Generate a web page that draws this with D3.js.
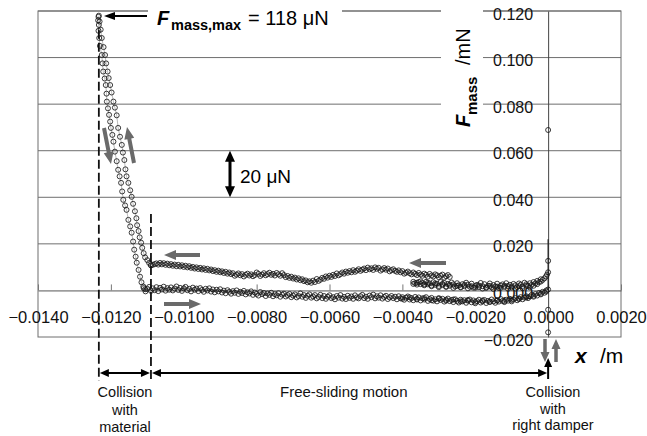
<!DOCTYPE html>
<html><head><meta charset="utf-8">
<script src="https://cdn.jsdelivr.net/npm/d3@7"></script>
<style>
body{margin:0;background:#fff}
svg{display:block;font-family:"Liberation Sans",Arial,sans-serif}
</style>
</head><body>
<svg id="c" width="647" height="436"></svg>
<script>
// ---------- axis ticks ----------
const xTicks = [-0.014,-0.012,-0.010,-0.008,-0.006,-0.004,-0.002,0.000,0.002];
const xTickLabels = ["\u22120.0140","\u22120.0120","\u22120.0100","\u22120.0080","\u22120.0060","\u22120.0040","\u22120.0020","0.0000","0.0020"];
const yTicks = [-0.02,0.00,0.02,0.04,0.06,0.08,0.10,0.12];
const yTickLabels = ["\u22120.020","0.000","0.020","0.040","0.060","0.080","0.100","0.120"];

// ---------- data: x /m, F_mass /mN ----------
// collision with material: loading branch (force rising)
const loadBranch = [
[-0.01090,0.0108],[-0.01095,0.0118],[-0.01100,0.0130],[-0.01106,0.0142],[-0.01110,0.0160],
[-0.01114,0.0183],[-0.01117,0.0205],[-0.01121,0.0228],[-0.01124,0.0255],[-0.01128,0.0280],
[-0.01130,0.0310],[-0.01134,0.0340],[-0.01139,0.0372],[-0.01143,0.0402],[-0.01147,0.0430],
[-0.01152,0.0462],[-0.01157,0.0490],[-0.01160,0.0520],[-0.01163,0.0560],[-0.01167,0.0592],
[-0.01170,0.0625],[-0.01175,0.0660],[-0.01180,0.0698],[-0.01184,0.0752],[-0.01189,0.0785],
[-0.01193,0.0811],[-0.01198,0.0850],[-0.01202,0.0882],[-0.01206,0.0912],[-0.01209,0.0940],
[-0.01213,0.0975],[-0.01216,0.1011],[-0.01220,0.1045],[-0.01225,0.1084],[-0.01228,0.1120],
[-0.01231,0.1155],[-0.01233,0.1180]];
// collision with material: unloading branch (force falling)
const unloadBranch = [
[-0.01234,0.1175],[-0.01235,0.1160],[-0.01233,0.1140],[-0.01234,0.1115],[-0.01232,0.1084],
[-0.01230,0.1050],[-0.01225,0.1011],[-0.01223,0.0975],[-0.01221,0.0940],[-0.01217,0.0910],
[-0.01214,0.0882],[-0.01212,0.0845],[-0.01211,0.0811],[-0.01208,0.0782],[-0.01205,0.0754],
[-0.01202,0.0725],[-0.01200,0.0698],[-0.01196,0.0668],[-0.01193,0.0639],[-0.01189,0.0596],
[-0.01184,0.0555],[-0.01180,0.0518],[-0.01176,0.0490],[-0.01172,0.0462],[-0.01169,0.0425],
[-0.01166,0.0389],[-0.01161,0.0365],[-0.01157,0.0346],[-0.01152,0.0303],[-0.01147,0.0275],
[-0.01143,0.0248],[-0.01139,0.0210],[-0.01136,0.0175],[-0.01132,0.0145],[-0.01129,0.0119],
[-0.01124,0.0088],[-0.01120,0.0059],[-0.01116,0.0035],[-0.01111,0.0017],[-0.01106,0.0005]];
// free sliding towards the material (moving left), upper band
const upperBand = [
[-0.00270,0.0058],[-0.00275,0.0066],[-0.00280,0.0061],[-0.00285,0.0055],[-0.00290,0.0068],
[-0.00295,0.0063],[-0.00300,0.0057],[-0.00305,0.0065],[-0.00310,0.0069],[-0.00315,0.0060],
[-0.00320,0.0064],[-0.00325,0.0071],[-0.00330,0.0059],[-0.00335,0.0067],[-0.00340,0.0072],
[-0.00345,0.0063],[-0.00350,0.0068],[-0.00355,0.0075],[-0.00360,0.0066],[-0.00365,0.0071],
[-0.00370,0.0077],[-0.00375,0.0069],[-0.00380,0.0074],[-0.00385,0.0081],[-0.00390,0.0076],
[-0.00395,0.0072],[-0.00400,0.0083],[-0.00405,0.0078],[-0.00410,0.0086],[-0.00415,0.0080],
[-0.00420,0.0084],[-0.00425,0.0091],[-0.00430,0.0087],[-0.00435,0.0082],[-0.00440,0.0094],
[-0.00445,0.0089],[-0.00450,0.0096],[-0.00455,0.0090],[-0.00460,0.0085],[-0.00465,0.0097],
[-0.00470,0.0093],[-0.00475,0.0099],[-0.00480,0.0088],[-0.00485,0.0095],[-0.00490,0.0091],
[-0.00495,0.0098],[-0.00500,0.0087],[-0.00505,0.0094],[-0.00510,0.0089],[-0.00515,0.0084],
[-0.00520,0.0091],[-0.00525,0.0085],[-0.00530,0.0080],[-0.00535,0.0087],[-0.00540,0.0078],
[-0.00545,0.0083],[-0.00550,0.0076],[-0.00555,0.0081],[-0.00560,0.0072],[-0.00565,0.0077],
[-0.00570,0.0070],[-0.00575,0.0065],[-0.00580,0.0073],[-0.00585,0.0062],[-0.00590,0.0067],
[-0.00595,0.0058],[-0.00600,0.0063],[-0.00605,0.0055],[-0.00610,0.0060],[-0.00615,0.0050],
[-0.00620,0.0054],[-0.00625,0.0046],[-0.00630,0.0041],[-0.00635,0.0049],[-0.00640,0.0036],
[-0.00645,0.0042],[-0.00650,0.0033],[-0.00655,0.0039],[-0.00660,0.0035],[-0.00665,0.0043],
[-0.00670,0.0040],[-0.00675,0.0048],[-0.00680,0.0044],[-0.00685,0.0052],[-0.00690,0.0047],
[-0.00695,0.0055],[-0.00700,0.0051],[-0.00705,0.0059],[-0.00710,0.0054],[-0.00715,0.0062],
[-0.00720,0.0057],[-0.00725,0.0066],[-0.00730,0.0074],[-0.00735,0.0063],[-0.00740,0.0069],
[-0.00745,0.0075],[-0.00750,0.0064],[-0.00755,0.0071],[-0.00760,0.0067],[-0.00765,0.0076],
[-0.00770,0.0070],[-0.00775,0.0065],[-0.00780,0.0074],[-0.00785,0.0068],[-0.00790,0.0062],
[-0.00795,0.0071],[-0.00800,0.0077],[-0.00805,0.0066],[-0.00810,0.0061],[-0.00815,0.0069],
[-0.00820,0.0064],[-0.00825,0.0072],[-0.00830,0.0067],[-0.00835,0.0060],[-0.00840,0.0070],
[-0.00845,0.0065],[-0.00850,0.0073],[-0.00855,0.0068],[-0.00860,0.0063],[-0.00865,0.0074],
[-0.00870,0.0070],[-0.00875,0.0077],[-0.00880,0.0072],[-0.00885,0.0080],[-0.00890,0.0075],
[-0.00895,0.0082],[-0.00900,0.0078],[-0.00905,0.0085],[-0.00910,0.0080],[-0.00915,0.0087],
[-0.00920,0.0083],[-0.00925,0.0090],[-0.00930,0.0086],[-0.00935,0.0093],[-0.00940,0.0088],
[-0.00945,0.0095],[-0.00950,0.0090],[-0.00955,0.0097],[-0.00960,0.0092],[-0.00965,0.0099],
[-0.00970,0.0094],[-0.00975,0.0101],[-0.00980,0.0097],[-0.00985,0.0104],[-0.00990,0.0099],
[-0.00995,0.0106],[-0.01000,0.0101],[-0.01005,0.0108],[-0.01010,0.0103],[-0.01015,0.0110],
[-0.01020,0.0104],[-0.01025,0.0111],[-0.01030,0.0106],[-0.01035,0.0113],[-0.01040,0.0108],
[-0.01045,0.0115],[-0.01050,0.0110],[-0.01055,0.0117],[-0.01060,0.0112],[-0.01065,0.0118],
[-0.01070,0.0111],[-0.01075,0.0116],[-0.01080,0.0113],[-0.01085,0.0110],[-0.01090,0.0108]];
// free sliding towards the right damper (moving right), lower band
const lowerBand = [
[-0.01110,0.0010],[-0.01105,-0.0004],[-0.01100,0.0007],[-0.01095,0.0015],[-0.01090,-0.0002],
[-0.01085,0.0009],[-0.01080,0.0001],[-0.01075,0.0014],[-0.01070,-0.0003],[-0.01065,0.0011],
[-0.01060,0.0004],[-0.01055,0.0016],[-0.01050,-0.0001],[-0.01045,0.0010],[-0.01040,0.0003],
[-0.01035,0.0013],[-0.01030,0.0000],[-0.01025,0.0008],[-0.01020,0.0017],[-0.01015,0.0002],
[-0.01010,0.0011],[-0.01005,-0.0002],[-0.01000,0.0009],[-0.00995,0.0015],[-0.00990,0.0001],
[-0.00985,0.0007],[-0.00980,-0.0004],[-0.00975,0.0012],[-0.00970,0.0003],[-0.00965,0.0008],
[-0.00960,-0.0003],[-0.00955,0.0010],[-0.00950,0.0002],[-0.00945,-0.0006],[-0.00940,0.0007],
[-0.00935,0.0000],[-0.00930,0.0009],[-0.00925,-0.0005],[-0.00920,0.0004],[-0.00915,-0.0008],
[-0.00910,0.0003],[-0.00905,-0.0004],[-0.00900,0.0005],[-0.00895,-0.0009],[-0.00890,-0.0001],
[-0.00885,-0.0012],[-0.00880,0.0001],[-0.00875,-0.0006],[-0.00870,-0.0014],[-0.00865,-0.0003],
[-0.00860,-0.0010],[-0.00855,0.0000],[-0.00850,-0.0015],[-0.00845,-0.0006],[-0.00840,-0.0011],
[-0.00835,-0.0002],[-0.00830,-0.0017],[-0.00825,-0.0008],[-0.00820,-0.0013],[-0.00815,-0.0004],
[-0.00810,-0.0019],[-0.00805,-0.0009],[-0.00800,-0.0015],[-0.00795,-0.0022],[-0.00790,-0.0007],
[-0.00785,-0.0016],[-0.00780,-0.0011],[-0.00775,-0.0024],[-0.00770,-0.0013],[-0.00765,-0.0019],
[-0.00760,-0.0010],[-0.00755,-0.0025],[-0.00750,-0.0016],[-0.00745,-0.0021],[-0.00740,-0.0012],
[-0.00735,-0.0027],[-0.00730,-0.0018],[-0.00725,-0.0014],[-0.00720,-0.0026],[-0.00715,-0.0020],
[-0.00710,-0.0015],[-0.00705,-0.0029],[-0.00700,-0.0022],[-0.00695,-0.0017],[-0.00690,-0.0030],
[-0.00685,-0.0024],[-0.00680,-0.0013],[-0.00675,-0.0027],[-0.00670,-0.0020],[-0.00665,-0.0032],
[-0.00660,-0.0023],[-0.00655,-0.0017],[-0.00650,-0.0031],[-0.00645,-0.0026],[-0.00640,-0.0020],
[-0.00635,-0.0034],[-0.00630,-0.0028],[-0.00625,-0.0019],[-0.00620,-0.0033],[-0.00615,-0.0024],
[-0.00610,-0.0036],[-0.00605,-0.0027],[-0.00600,-0.0021],[-0.00595,-0.0033],[-0.00590,-0.0029],
[-0.00585,-0.0038],[-0.00580,-0.0024],[-0.00575,-0.0031],[-0.00570,-0.0020],[-0.00565,-0.0035],
[-0.00560,-0.0028],[-0.00555,-0.0037],[-0.00550,-0.0023],[-0.00545,-0.0032],[-0.00540,-0.0026],
[-0.00535,-0.0036],[-0.00530,-0.0021],[-0.00525,-0.0030],[-0.00520,-0.0034],[-0.00515,-0.0025],
[-0.00510,-0.0019],[-0.00505,-0.0033],[-0.00500,-0.0027],[-0.00495,-0.0036],[-0.00490,-0.0022],
[-0.00485,-0.0029],[-0.00480,-0.0018],[-0.00475,-0.0034],[-0.00470,-0.0025],[-0.00465,-0.0031],
[-0.00460,-0.0021],[-0.00455,-0.0035],[-0.00450,-0.0028],[-0.00445,-0.0023],[-0.00440,-0.0037],
[-0.00435,-0.0030],[-0.00430,-0.0024],[-0.00425,-0.0033],[-0.00420,-0.0027],[-0.00415,-0.0038],
[-0.00410,-0.0025],[-0.00405,-0.0034],[-0.00400,-0.0029],[-0.00395,-0.0040],[-0.00390,-0.0031],
[-0.00385,-0.0026],[-0.00380,-0.0039],[-0.00375,-0.0033],[-0.00370,-0.0042],[-0.00365,-0.0028],
[-0.00360,-0.0036],[-0.00355,-0.0030],[-0.00350,-0.0043],[-0.00345,-0.0034],[-0.00340,-0.0039],
[-0.00335,-0.0029],[-0.00330,-0.0045],[-0.00325,-0.0037],[-0.00320,-0.0032],[-0.00315,-0.0044],
[-0.00310,-0.0038],[-0.00305,-0.0047],[-0.00300,-0.0033],[-0.00295,-0.0041],[-0.00290,-0.0036],
[-0.00285,-0.0048],[-0.00280,-0.0040],[-0.00275,-0.0035],[-0.00270,-0.0046],[-0.00265,-0.0041],
[-0.00260,-0.0050],[-0.00255,-0.0038],[-0.00250,-0.0045],[-0.00245,-0.0052],[-0.00240,-0.0040],
[-0.00235,-0.0047],[-0.00230,-0.0042],[-0.00225,-0.0053],[-0.00220,-0.0044],[-0.00215,-0.0039],
[-0.00210,-0.0051],[-0.00205,-0.0043],[-0.00200,-0.0055],[-0.00195,-0.0046],[-0.00190,-0.0040],
[-0.00185,-0.0052],[-0.00180,-0.0047],[-0.00175,-0.0041],[-0.00170,-0.0054],[-0.00165,-0.0045],
[-0.00160,-0.0050],[-0.00155,-0.0039],[-0.00150,-0.0047],[-0.00145,-0.0053],[-0.00140,-0.0042],
[-0.00135,-0.0048],[-0.00130,-0.0037],[-0.00125,-0.0045],[-0.00120,-0.0050],[-0.00115,-0.0040],
[-0.00110,-0.0044],[-0.00105,-0.0036],[-0.00100,-0.0047],[-0.00095,-0.0039],[-0.00090,-0.0033],
[-0.00085,-0.0042],[-0.00080,-0.0035],[-0.00075,-0.0029],[-0.00070,-0.0038],[-0.00065,-0.0031],
[-0.00060,-0.0025],[-0.00055,-0.0033],[-0.00050,-0.0026],[-0.00045,-0.0019],[-0.00040,-0.0027],
[-0.00035,-0.0016],[-0.00030,-0.0022],[-0.00025,-0.0011],[-0.00020,-0.0017],[-0.00015,-0.0006],
[-0.00010,-0.0010],[-0.00005,0.0000],[0.00000,0.0004]];
// second pass of the lower band close to the right damper
const lowerBandPass2 = [
[-0.00400,-0.0036],[-0.00380,-0.0030],[-0.00360,-0.0039],[-0.00340,-0.0033],[-0.00320,-0.0042],
[-0.00300,-0.0036],[-0.00280,-0.0044],[-0.00260,-0.0039],[-0.00240,-0.0047],[-0.00220,-0.0041],
[-0.00200,-0.0049],[-0.00180,-0.0043],[-0.00160,-0.0048],[-0.00140,-0.0044],[-0.00120,-0.0046],
[-0.00100,-0.0041],[-0.00080,-0.0037],[-0.00060,-0.0030],[-0.00040,-0.0023],[-0.00020,-0.0014],
[-0.00005,-0.0005]];
// leaving the right damper (moving left), middle band
const middleBand = [
[0.00000,0.0078],[-0.00003,0.0068],[-0.00006,0.0060],[-0.00010,0.0052],[-0.00015,0.0045],
[-0.00020,0.0048],[-0.00025,0.0036],[-0.00030,0.0041],[-0.00035,0.0030],[-0.00040,0.0036],
[-0.00045,0.0024],[-0.00050,0.0031],[-0.00055,0.0019],[-0.00060,0.0027],[-0.00065,0.0033],
[-0.00070,0.0016],[-0.00075,0.0025],[-0.00080,0.0030],[-0.00085,0.0014],[-0.00090,0.0022],
[-0.00095,0.0028],[-0.00100,0.0012],[-0.00105,0.0024],[-0.00110,0.0019],[-0.00115,0.0031],
[-0.00120,0.0015],[-0.00125,0.0026],[-0.00130,0.0021],[-0.00135,0.0010],[-0.00140,0.0029],
[-0.00145,0.0017],[-0.00150,0.0023],[-0.00155,0.0013],[-0.00160,0.0030],[-0.00165,0.0020],
[-0.00170,0.0011],[-0.00175,0.0027],[-0.00180,0.0018],[-0.00185,0.0032],[-0.00190,0.0014],
[-0.00195,0.0024],[-0.00200,0.0020],[-0.00205,0.0012],[-0.00210,0.0029],[-0.00215,0.0016],
[-0.00220,0.0025],[-0.00225,0.0033],[-0.00230,0.0018],[-0.00235,0.0027],[-0.00240,0.0013],
[-0.00245,0.0022],[-0.00250,0.0031],[-0.00255,0.0017],[-0.00260,0.0026],[-0.00265,0.0034],
[-0.00270,0.0020],[-0.00275,0.0028],[-0.00280,0.0015],[-0.00285,0.0032],[-0.00290,0.0023],
[-0.00295,0.0036],[-0.00300,0.0019],[-0.00305,0.0029],[-0.00310,0.0024],[-0.00315,0.0035],
[-0.00320,0.0021],[-0.00325,0.0030],[-0.00330,0.0026],[-0.00335,0.0037],[-0.00340,0.0022],
[-0.00345,0.0032],[-0.00350,0.0027],[-0.00355,0.0036],[-0.00360,0.0025],[-0.00365,0.0031],
[-0.00370,0.0028]];
// second pass of the middle band
const middleBandPass2 = [
[-0.00020,0.0038],[-0.00030,0.0027],[-0.00040,0.0020],[-0.00050,0.0013],[-0.00060,0.0021],
[-0.00070,0.0009],[-0.00080,0.0018],[-0.00090,0.0008],[-0.00100,0.0017],[-0.00110,0.0007],
[-0.00120,0.0020],[-0.00130,0.0011],[-0.00140,0.0016],[-0.00150,0.0006],[-0.00160,0.0019],
[-0.00170,0.0013],[-0.00180,0.0008],[-0.00190,0.0021],[-0.00200,0.0012],[-0.00210,0.0018],
[-0.00220,0.0009],[-0.00230,0.0024],[-0.00240,0.0015],[-0.00250,0.0020],[-0.00260,0.0011],
[-0.00270,0.0025],[-0.00280,0.0017],[-0.00290,0.0028],[-0.00300,0.0014],[-0.00310,0.0030],
[-0.00320,0.0018],[-0.00330,0.0033],[-0.00340,0.0026],[-0.00350,0.0039],[-0.00360,0.0033],
[-0.00370,0.0037]];
// collision with the right damper
const damperPoints = [[0.0000,0.0127],[0.0000,0.0689],[0.0000,-0.0083],[0.0000,-0.0180]];

// ---------- scales ----------
const svg = d3.select("#c");
const x = d3.scaleLinear().domain([-0.014, 0.002]).range([38, 621]);
const y = d3.scaleLinear().domain([-0.02, 0.12]).range([337, 11]);

svg.append("rect").attr("width",647).attr("height",436).attr("fill","#fff");

// gridlines
svg.append("g").selectAll("line").data(yTicks.filter(v => v > 0)).join("line")
  .attr("x1", x(-0.014)).attr("x2", x(0.002))
  .attr("y1", d => y(d)).attr("y2", d => y(d))
  .attr("stroke", "#6e6e6e").attr("stroke-width", 1);
// plot border
svg.append("rect").attr("x", x(-0.014)).attr("y", y(0.12))
  .attr("width", x(0.002) - x(-0.014)).attr("height", y(-0.02) - y(0.12))
  .attr("fill", "none").attr("stroke", "#6e6e6e").attr("stroke-width", 1);

// white backgrounds of the labels that cover grid lines
svg.append("rect").attr("x",148).attr("y",2).attr("width",194).attr("height",32).attr("fill","#fff");
svg.append("rect").attr("x",441).attr("y",0).attr("width",42).attr("height",132).attr("fill","#fff");

// axes
const xAxis = d3.axisBottom(x).tickValues(xTicks)
  .tickFormat((d, i) => xTickLabels[i]).tickSizeInner(-6).tickSizeOuter(0).tickPadding(21);
const gx = svg.append("g").attr("transform", `translate(0,${y(0)})`).call(xAxis);
gx.select(".domain").attr("stroke", "#555");
gx.selectAll(".tick line").attr("stroke", "#777");
gx.selectAll("text").attr("font-size", 16.5).attr("fill", "#111")
  .attr("font-family", "Liberation Sans, Arial, sans-serif");

const yAxis = d3.axisLeft(y).tickValues(yTicks)
  .tickFormat((d, i) => yTickLabels[i]).tickSize(0).tickPadding(15);
const gy = svg.append("g").attr("transform", `translate(${x(0)},0)`).call(yAxis);
gy.select(".domain").attr("stroke", "#444");
gy.selectAll("text").attr("font-size", 16).attr("fill", "#111")
  .attr("font-family", "Liberation Sans, Arial, sans-serif").attr("dy", "0.5em");

// ---------- data marks ----------
const line = d3.line().x(d => x(d[0])).y(d => y(d[1]));
const series = [lowerBand, lowerBandPass2, middleBand, middleBandPass2, upperBand, loadBranch, unloadBranch];
const gData = svg.append("g");
series.forEach(s => {
  gData.append("path").datum(s).attr("d", line)
    .attr("fill", "none").attr("stroke", "#8a8a8a").attr("stroke-width", 0.6);
});
gData.append("path").datum([[0,0.0004],[0,0.0220],[0,0.0127]]).attr("d", line)
  .attr("fill","none").attr("stroke","#222").attr("stroke-width",1.2);
series.concat([damperPoints]).forEach(s => {
  gData.append("g").selectAll("circle").data(s).join("circle")
    .attr("cx", d => x(d[0])).attr("cy", d => y(d[1])).attr("r", 2.5)
    .attr("fill", "none").attr("stroke", "#1a1a1a").attr("stroke-width", 0.85);
});

// ---------- annotations ----------
const ann = svg.append("g");
function arrowPts(x1,y1,x2,y2,sw,hw,hl){
  const dx=x2-x1, dy=y2-y1, L=Math.hypot(dx,dy), ux=dx/L, uy=dy/L, nx=-uy, ny=ux;
  const bx=x2-ux*hl, by=y2-uy*hl;
  return [[x1+nx*sw/2,y1+ny*sw/2],[bx+nx*sw/2,by+ny*sw/2],[bx+nx*hw/2,by+ny*hw/2],[x2,y2],
          [bx-nx*hw/2,by-ny*hw/2],[bx-nx*sw/2,by-ny*sw/2],[x1-nx*sw/2,y1-ny*sw/2]].map(p=>p.join(",")).join(" ");
}
function dblArrowPts(x1,y1,x2,y2,sw,hw,hl){
  const dx=x2-x1, dy=y2-y1, L=Math.hypot(dx,dy), ux=dx/L, uy=dy/L, nx=-uy, ny=ux;
  const ax=x1+ux*hl, ay=y1+uy*hl, bx=x2-ux*hl, by=y2-uy*hl;
  return [[x1,y1],[ax+nx*hw/2,ay+ny*hw/2],[ax+nx*sw/2,ay+ny*sw/2],[bx+nx*sw/2,by+ny*sw/2],[bx+nx*hw/2,by+ny*hw/2],
          [x2,y2],[bx-nx*hw/2,by-ny*hw/2],[bx-nx*sw/2,by-ny*sw/2],[ax-nx*sw/2,ay-ny*sw/2],[ax-nx*hw/2,ay-ny*hw/2]]
          .map(p=>p.join(",")).join(" ");
}
const gray = "#6a6a6a";
// gray direction arrows
[[200,255,164,255],[164,304,201,304],[446,263,409,263],[104,128,111,164],[134,163,127,127]].forEach(a=>{
  ann.append("polygon").attr("points", arrowPts(a[0],a[1],a[2],a[3],4,10,12)).attr("fill", gray);
});
[[545,339,545,362],[556,362,556,339]].forEach(a=>{
  ann.append("polygon").attr("points", arrowPts(a[0],a[1],a[2],a[3],3.5,9,10)).attr("fill", gray);
});
// dashed boundaries
ann.append("line").attr("x1", x(-0.01233)).attr("x2", x(-0.01233)).attr("y1", y(0.112)).attr("y2", 381)
  .attr("stroke","#111").attr("stroke-width",1.8).attr("stroke-dasharray","9,4");
ann.append("line").attr("x1", x(-0.0109)).attr("x2", x(-0.0109)).attr("y1", 214).attr("y2", 381)
  .attr("stroke","#111").attr("stroke-width",1.8).attr("stroke-dasharray","9,4");
// black arrows
ann.append("polygon").attr("points", arrowPts(147,16,104,16,2,8,11)).attr("fill","#000");
ann.append("polygon").attr("points", dblArrowPts(230,y(0.06),230,y(0.04),3,10,11)).attr("fill","#000");
ann.append("polygon").attr("points", dblArrowPts(x(-0.01233)+1,373,x(-0.0109)-1,373,2,8,9)).attr("fill","#000");
ann.append("polygon").attr("points", dblArrowPts(x(-0.0109)+1,373,x(0)-1,373,2,8,9)).attr("fill","#000");
ann.append("polygon").attr("points", arrowPts(x(0),379,x(0),358,2,8,9)).attr("fill","#000");

// texts
const FF = "Liberation Sans, Arial, sans-serif";
const tMax = ann.append("text").attr("y",25).attr("font-family",FF).attr("fill","#000");
tMax.append("tspan").attr("x",157).attr("font-size",20).attr("font-weight","bold").attr("font-style","italic").text("F");
tMax.append("tspan").attr("x",171).attr("dy",5).attr("font-size",14.5).attr("font-weight","bold").text("mass,max");
tMax.append("tspan").attr("x",248).attr("dy",-5).attr("font-size",20).text("= 118 \u03bcN");

ann.append("text").attr("x",240).attr("y",183).attr("font-family",FF).attr("font-size",19).text("20 \u03bcN");

const tY = ann.append("text").attr("transform","translate(470,127) rotate(-90)").attr("font-family",FF);
tY.append("tspan").attr("x",0).attr("font-size",20).attr("font-weight","bold").attr("font-style","italic").text("F");
tY.append("tspan").attr("x",12).attr("dy",7).attr("font-size",15).attr("font-weight","bold").text("mass");
tY.append("tspan").attr("x",62).attr("dy",-7).attr("font-size",20).text("/mN");

const tX = ann.append("text").attr("y",363).attr("font-family",FF).attr("font-size",21);
tX.append("tspan").attr("x",575).attr("font-weight","bold").attr("font-style","italic").text("x");
tX.append("tspan").attr("x",600).text("/m");

function lines(cx, ys, arr, size){
  arr.forEach((s,i)=>ann.append("text").attr("x",cx).attr("y",ys[i]).attr("text-anchor","middle")
    .attr("font-family",FF).attr("font-size",size).attr("fill","#111").text(s));
}
lines(125,[397,414.5,432],["Collision","with","material"],14.5);
lines(553,[397,413.5,430],["Collision","with","right damper"],14.5);
ann.append("text").attr("x",280).attr("y",397).attr("font-family",FF).attr("font-size",15).attr("fill","#111").text("Free-sliding motion");
</script>
</body></html>
